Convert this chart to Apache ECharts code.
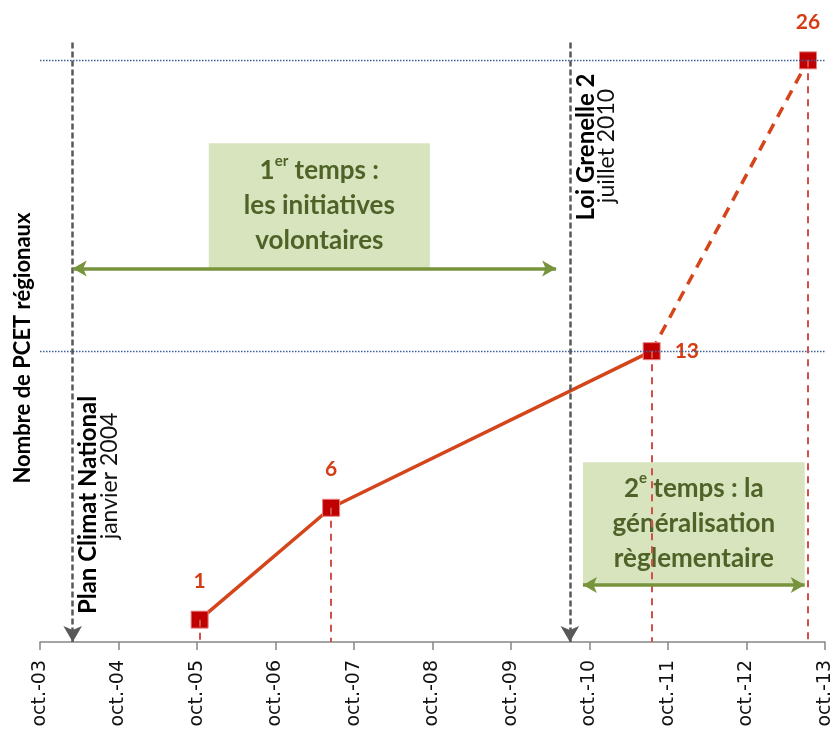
<!DOCTYPE html>
<html>
<head>
<meta charset="utf-8">
<script src="https://cdn.jsdelivr.net/npm/echarts@6/dist/echarts.min.js"></script>
<style>
  html, body { margin: 0; padding: 0; background: #fff; }
  #chart { width: 840px; height: 729px; }
</style>
</head>
<body>
<div id="chart"></div>
<script>
// x values are months counted from October 2003
const tickLabels = ['oct.-03', 'oct.-04', 'oct.-05', 'oct.-06', 'oct.-07', 'oct.-08',
  'oct.-09', 'oct.-10', 'oct.-11', 'oct.-12', 'oct.-13'];
const pointMonths = [24.4, 44.5, 93.5, 117.4];
const pointCounts = [1, 6, 13, 26];
const eventMonths = [5, 81];
const eventNames = ['Plan Climat National', 'Loi Grenelle 2'];
const eventDates = ['janvier 2004', 'juillet 2010'];

const pairs = pointMonths.map((m, i) => [m, pointCounts[i]]);
const chart = echarts.init(document.getElementById('chart'));

const boxText = {
  color: '#4f6228',
  fontFamily: 'Lato',
  rich: {
    b: { fontSize: 26, fontWeight: 'bold', lineHeight: 35, color: '#4f6228', fontFamily: 'Lato' },
    s: { fontSize: 15, fontWeight: 'bold', lineHeight: 27, verticalAlign: 'top', color: '#4f6228', fontFamily: 'Lato' }
  }
};

const option = {
  animation: false,
  grid: { left: 40, right: 15, top: 38, bottom: 87, outerBoundsMode: 'none' },
  xAxis: {
    type: 'value', min: 0, max: 120, interval: 12,
    axisLine: { lineStyle: { color: '#868686', width: 1.5 } },
    axisTick: { length: 8, lineStyle: { color: '#868686', width: 1.5 } },
    axisLabel: {
      rotate: 90, margin: 18, color: '#111', fontFamily: 'DejaVu Sans', fontSize: 19,
      showMinLabel: true, showMaxLabel: true, hideOverlap: false,
      formatter: v => tickLabels[Math.round(v / 12)]
    },
    splitLine: { show: false }
  },
  yAxis: {
    type: 'value', min: 0, max: 27,
    axisLine: { show: false }, axisTick: { show: false },
    axisLabel: { show: false }, splitLine: { show: false }
  },
  series: [
    {
      // reference lines at 13 and 26
      type: 'line', data: [], z: 1,
      markLine: {
        silent: true, symbol: 'none', label: { show: false },
        lineStyle: { color: '#3a5f9a', type: [1.5, 1.5], width: 1.3 },
        data: [{ yAxis: pointCounts[2] }, { yAxis: pointCounts[3] }]
      }
    },
    {
      // drop lines
      type: 'line', data: [], z: 1,
      markLine: {
        silent: true, symbol: 'none', label: { show: false },
        lineStyle: { color: '#d0504a', type: [7, 6], width: 2 },
        data: pairs.map(p => [{ coord: [p[0], p[1]] }, { coord: [p[0], 0] }])
      }
    },
    {
      // event lines
      type: 'line', data: [], z: 2,
      markLine: {
        silent: true, symbol: ['none', 'arrow'], symbolSize: [14, 16], label: { show: false },
        lineStyle: { color: '#595959', type: [6, 3], width: 2.5 },
        data: eventMonths.map(m => [{ coord: [m, 26.8] }, { coord: [m, 0] }])
      }
    },
    {
      // phases
      type: 'line', data: [], z: 2,
      markArea: {
        silent: true,
        itemStyle: { color: '#d7e4bd' },
        label: Object.assign({ position: 'inside' }, boxText),
        data: [
          [{ coord: [25.8, 22.3], label: { formatter: '{b|1}{s|er}{b| temps :}\n{b|les initiatives}\n{b|volontaires}' } },
           { coord: [59.6, 16.7] }],
          [{ coord: [83, 8.04], label: { formatter: '{b|2}{s|e}{b| temps : la}\n{b|généralisation}\n{b|règlementaire}' } },
           { coord: [116.9, 2.55] }]
        ]
      },
      markLine: {
        silent: true, symbol: ['arrow', 'arrow'], symbolSize: [12, 14], label: { show: false },
        lineStyle: { color: '#77933c', type: 'solid', width: 3.5 },
        data: [
          [{ coord: [5, 16.7] }, { coord: [78.9, 16.7] }],
          [{ coord: [83, 2.55] }, { coord: [116.9, 2.55] }]
        ]
      }
    },
    {
      type: 'line', z: 3, symbol: 'none',
      data: pairs.slice(0, 3),
      lineStyle: { color: '#d5451b', width: 3.5 }
    },
    {
      type: 'line', z: 3, symbol: 'none',
      data: pairs.slice(2),
      lineStyle: { color: '#d5451b', width: 3.5, type: [11, 8] }
    },
    {
      type: 'scatter', z: 4, symbol: 'rect', symbolSize: 17,
      itemStyle: { color: '#c00000', borderColor: '#e88080', borderWidth: 1, opacity: 1 },
      label: {
        show: true, position: 'top', distance: 19,
        color: '#d63c12', fontFamily: 'Lato', fontWeight: 'bold', fontSize: 21,
        formatter: p => p.value[1]
      },
      data: pairs.map((p, i) => i === 2
        ? { value: p, label: { position: 'right', distance: 14 } }
        : { value: p })
    }
  ]
};
chart.setOption(option);

// rotated annotations next to the event lines
const titleY = [505, 147];
const dateY = [476, 146];
const graphics = [{
  type: 'text', x: 23, y: 348, rotation: Math.PI / 2,
  style: {
    text: 'Nombre de PCET régionaux', fill: '#000',
    font: 'bold 22px Lato', textAlign: 'center', textVerticalAlign: 'middle'
  }
}];
eventMonths.forEach((m, i) => {
  const x = chart.convertToPixel({ gridIndex: 0 }, [m, 0])[0];
  graphics.push({
    type: 'text', x: x + 16, y: titleY[i], rotation: Math.PI / 2,
    style: {
      text: eventNames[i], fill: '#000', font: 'bold 24px Lato',
      textAlign: 'center', textVerticalAlign: 'middle'
    }
  });
  graphics.push({
    type: 'text', x: x + 37, y: dateY[i], rotation: Math.PI / 2,
    style: {
      text: eventDates[i], fill: '#111', font: '23px Lato',
      textAlign: 'center', textVerticalAlign: 'middle'
    }
  });
});
chart.setOption({ graphic: graphics });
</script>
</body>
</html>
